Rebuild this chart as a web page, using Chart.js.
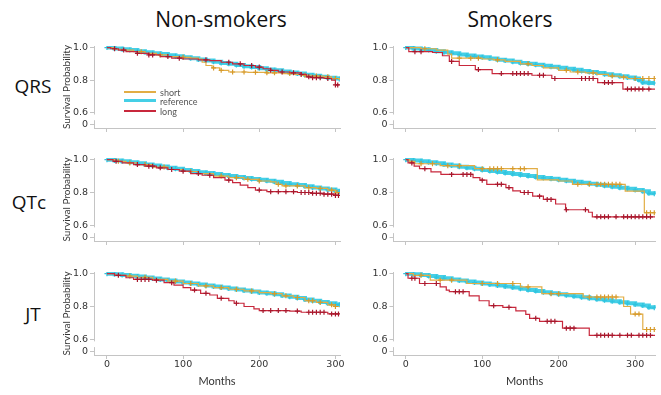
<!DOCTYPE html>
<html>
<head>
<meta charset="utf-8">
<script src="https://cdn.jsdelivr.net/npm/chart.js@4.4.1/dist/chart.umd.min.js"></script>
<style>
  body { margin: 0; background: #fff; width: 661px; height: 395px; position: relative; overflow: hidden; font-family: Lato, sans-serif; }
  canvas { position: absolute; }
  .t { position: absolute; transform: translate(-50%, -50%); white-space: nowrap; color: #111; }
  .col { font-family: "Open Sans", sans-serif; font-size: 21px; }
  .row { font-family: "Open Sans", sans-serif; font-size: 19px; }
  .lg { position: absolute; }
  .lt { position: absolute; font-size: 9px; color: #555; transform: translateY(-50%); }
</style>
</head>
<body>
<div class="t col" style="left:221px;top:19px">Non-smokers</div>
<div class="t col" style="left:510px;top:19px">Smokers</div>
<div class="t row" style="left:33px;top:86px">QRS</div>
<div class="t row" style="left:29px;top:202px">QTc</div>
<div class="t row" style="left:33px;top:314px">JT</div>

<canvas id="c1" width="292" height="100" style="left:56px;top:36px"></canvas>
<canvas id="c2" width="301" height="100" style="left:360px;top:36px"></canvas>
<canvas id="c3" width="292" height="101" style="left:56px;top:148px"></canvas>
<canvas id="c4" width="301" height="101" style="left:360px;top:148px"></canvas>
<canvas id="c5" width="292" height="133" style="left:56px;top:262px"></canvas>
<canvas id="c6" width="301" height="133" style="left:360px;top:262px"></canvas>

<div class="lg" style="left:124px;top:91px;width:32px;height:2px;background:#E2AD45"></div>
<div class="lt" style="left:160px;top:91.5px">short</div>
<div class="lg" style="left:124px;top:99px;width:32px;height:3px;background:#45CFE6"></div>
<div class="lt" style="left:160px;top:101px">reference</div>
<div class="lg" style="left:124px;top:110px;width:32px;height:2px;background:#C8283C"></div>
<div class="lt" style="left:160px;top:110.5px">long</div>

<script>
// months / survival probability
const xTicks = [0, 100, 200, 300];
const yTicks = [0.528, 0.6, 0.8, 1.0];

// Non-smokers, QRS
const nsQrsRef = [[0,1],[10,0.995],[20,0.99],[30,0.985],[40,0.978],[50,0.972],[60,0.966],[70,0.96],[80,0.953],[90,0.947],[100,0.94],[110,0.934],[120,0.927],[130,0.92],[140,0.913],[150,0.906],[160,0.9],[170,0.893],[180,0.886],[190,0.88],[200,0.873],[210,0.866],[220,0.86],[230,0.853],[240,0.847],[250,0.84],[260,0.833],[270,0.827],[280,0.82],[290,0.815],[300,0.81],[305,0.807]];
const nsQrsShort = [[0,1],[8,0.99],[20,0.985],[35,0.975],[50,0.965],[65,0.955],[80,0.945],[95,0.94],[110,0.935],[120,0.93],[125,0.91],[130,0.89],[138,0.875],[148,0.86],[160,0.85],[185,0.848],[210,0.845],[230,0.84],[245,0.835],[255,0.83],[270,0.825],[285,0.82],[295,0.81],[305,0.8]];
const nsQrsShortCens = [45,70,100,140,150,165,180,195,210,220,240,260,275,290,300];
const nsQrsLong = [[0,1],[5,0.993],[15,0.985],[25,0.975],[40,0.965],[55,0.955],[70,0.945],[85,0.935],[100,0.93],[120,0.925],[135,0.92],[150,0.91],[165,0.9],[180,0.89],[195,0.88],[205,0.87],[215,0.86],[225,0.85],[240,0.845],[255,0.835],[262,0.82],[270,0.815],[285,0.81],[295,0.8],[300,0.77],[305,0.77]];
const nsQrsLongCens = [10,22,40,55,60,80,95,130,160,175,190,200,215,230,245,255,265,270,275,280,290,300,303];

// Smokers, QRS
const sQrsRef = [[0,1],[10,0.995],[20,0.99],[30,0.985],[40,0.978],[50,0.972],[60,0.965],[70,0.958],[80,0.952],[90,0.946],[100,0.94],[110,0.933],[120,0.926],[130,0.92],[140,0.913],[150,0.906],[160,0.9],[170,0.894],[180,0.888],[190,0.882],[200,0.876],[210,0.87],[220,0.863],[230,0.856],[240,0.85],[250,0.843],[260,0.836],[270,0.83],[280,0.823],[290,0.816],[300,0.81],[305,0.8],[310,0.785],[318,0.782],[325,0.782]];
const sQrsShort = [[0,1],[20,0.993],[40,0.985],[55,0.96],[60,0.935],[100,0.93],[115,0.925],[130,0.915],[150,0.9],[165,0.89],[180,0.875],[200,0.86],[215,0.85],[235,0.845],[250,0.835],[265,0.825],[280,0.818],[290,0.81],[326,0.81]];
const sQrsShortCens = [25,70,85,95,120,160,210,225,245,270,285,300,310,318,325];
const sQrsLong = [[0,1],[4,0.975],[35,0.97],[48,0.95],[57,0.915],[70,0.89],[91,0.865],[113,0.84],[165,0.83],[191,0.81],[251,0.785],[284,0.745],[326,0.745]];
const sQrsLongCens = [12,20,60,95,125,140,145,150,155,160,175,180,195,230,235,240,245,260,265,270,290,295,300,305,310,318];

// Non-smokers, QTc
const nsQtcRef = [[0,1],[10,0.995],[20,0.99],[30,0.984],[40,0.978],[50,0.971],[60,0.964],[70,0.958],[80,0.951],[90,0.944],[100,0.937],[110,0.931],[120,0.924],[130,0.918],[140,0.912],[150,0.906],[160,0.9],[170,0.894],[180,0.888],[190,0.882],[200,0.877],[210,0.871],[220,0.865],[230,0.858],[240,0.851],[250,0.845],[260,0.838],[270,0.831],[280,0.824],[290,0.818],[300,0.81],[305,0.805]];
const nsQtcShort = [[0,1],[10,0.99],[25,0.98],[40,0.97],[60,0.955],[80,0.94],[100,0.928],[120,0.915],[140,0.9],[160,0.89],[180,0.88],[200,0.87],[215,0.865],[222,0.85],[230,0.84],[245,0.84],[260,0.83],[275,0.825],[290,0.815],[300,0.8],[305,0.797]];
const nsQtcShortCens = [15,30,50,75,110,150,170,185,200,225,235,250,265,280,295,302];
const nsQtcLong = [[0,1],[8,0.99],[20,0.98],[35,0.97],[50,0.96],[65,0.95],[80,0.94],[95,0.93],[110,0.915],[125,0.905],[140,0.89],[155,0.875],[165,0.86],[175,0.845],[185,0.83],[195,0.815],[210,0.805],[250,0.8],[270,0.795],[285,0.79],[300,0.782],[305,0.782]];
const nsQtcLongCens = [12,40,55,60,70,85,100,120,135,160,200,215,225,235,245,255,260,265,270,275,280,285,290,295,300,304];

// Smokers, QTc
const sQtcRef = [[0,1],[10,0.995],[20,0.99],[30,0.984],[40,0.978],[50,0.971],[60,0.964],[70,0.957],[80,0.95],[90,0.944],[100,0.937],[110,0.931],[120,0.925],[130,0.919],[140,0.913],[150,0.907],[160,0.901],[170,0.895],[180,0.889],[190,0.883],[200,0.877],[210,0.871],[220,0.865],[230,0.859],[240,0.853],[250,0.847],[260,0.841],[270,0.835],[280,0.829],[290,0.823],[300,0.816],[310,0.808],[318,0.795],[325,0.792]];
const sQtcShort = [[0,1],[5,0.99],[12,0.975],[45,0.963],[90,0.945],[172,0.877],[200,0.87],[218,0.85],[287,0.808],[312,0.677],[326,0.677]];
const sQtcShortCens = [20,35,55,70,100,110,115,120,125,140,150,155,225,240,250,255,260,265,270,275,280,315,320,325];
const sQtcLong = [[0,1],[3,0.98],[11,0.96],[18,0.945],[33,0.925],[46,0.91],[88,0.89],[97,0.875],[106,0.85],[131,0.83],[140,0.81],[150,0.8],[166,0.778],[180,0.758],[196,0.73],[209,0.695],[239,0.68],[244,0.652],[326,0.652]];
const sQtcLongCens = [8,25,60,75,80,85,100,120,125,135,155,160,175,185,190,210,235,250,255,260,265,275,285,290,295,300,305,310,315,320];

// Non-smokers, JT
const nsJtRef = [[0,1],[10,0.996],[20,0.992],[30,0.987],[40,0.982],[50,0.976],[60,0.97],[70,0.964],[80,0.958],[90,0.952],[100,0.946],[110,0.94],[120,0.934],[130,0.928],[140,0.922],[150,0.916],[160,0.91],[170,0.904],[180,0.898],[190,0.892],[200,0.886],[210,0.88],[220,0.874],[230,0.867],[240,0.86],[250,0.852],[260,0.843],[270,0.835],[280,0.827],[290,0.82],[300,0.813],[305,0.81]];
const nsJtShort = [[0,1],[10,0.99],[25,0.985],[40,0.978],[60,0.965],[80,0.955],[100,0.94],[120,0.925],[140,0.915],[160,0.905],[180,0.895],[200,0.885],[215,0.878],[230,0.865],[245,0.855],[260,0.835],[275,0.825],[290,0.81],[300,0.8],[305,0.8]];
const nsJtShortCens = [30,50,90,110,130,150,170,190,220,235,250,265,270,280,295,300];
const nsJtLong = [[0,1],[10,0.99],[25,0.975],[35,0.965],[60,0.96],[75,0.945],[88,0.93],[100,0.915],[110,0.9],[123,0.88],[135,0.87],[145,0.85],[160,0.835],[167,0.82],[180,0.8],[193,0.786],[200,0.775],[240,0.772],[255,0.765],[290,0.755],[305,0.755]];
const nsJtLongCens = [15,40,45,50,55,65,85,115,130,150,170,205,215,225,235,250,265,270,275,280,285,295,300,304];

// Smokers, JT
const sJtRef = [[0,1],[10,0.996],[20,0.991],[30,0.985],[40,0.979],[50,0.972],[60,0.965],[70,0.958],[80,0.952],[90,0.946],[100,0.94],[110,0.934],[120,0.928],[130,0.922],[140,0.915],[150,0.908],[160,0.901],[170,0.894],[180,0.887],[190,0.88],[200,0.874],[210,0.868],[220,0.862],[230,0.856],[240,0.85],[250,0.844],[260,0.838],[270,0.832],[280,0.826],[290,0.82],[300,0.813],[310,0.806],[318,0.795],[325,0.792]];
const sJtShort = [[0,1],[10,0.99],[32,0.96],[80,0.94],[150,0.92],[178,0.878],[232,0.858],[285,0.8],[294,0.754],[310,0.66],[326,0.66]];
const sJtShortCens = [20,45,60,100,120,140,160,190,200,240,250,255,260,265,270,275,300,305,315,320,325];
const sJtLong = [[0,1],[3,0.972],[18,0.94],[45,0.92],[53,0.9],[57,0.89],[83,0.865],[96,0.835],[109,0.805],[127,0.795],[144,0.773],[157,0.752],[162,0.728],[175,0.71],[205,0.668],[240,0.625],[326,0.625]];
const sJtLongCens = [8,12,25,40,65,70,75,115,135,170,185,190,195,210,215,220,250,255,260,265,270,280,290,295,305,310,315,320];

const ORANGE = '#E2AD45', ORANGE_D = '#D79A2A';
const CYAN = '#45CFE6', CYAN_D = '#2FC3DE';
const RED = '#C8283C', RED_D = '#A8172C';
const AXIS = '#c4c4c4';

function xy(curve) { return curve.map(p => ({ x: p[0], y: p[1] })); }
function stepAt(curve, t) {
  let v = curve[0][1];
  for (const p of curve) if (p[0] <= t) v = p[1];
  return v;
}
function marks(curve, times) { return times.map(t => ({ x: t, y: stepAt(curve, t) })); }

// small white gap in the y axis between 0 and 0.6
const axisBreak = {
  id: 'axisBreak',
  afterDraw(chart) {
    const y = chart.scales.y, ctx = chart.ctx;
    const a = y.getPixelForValue(0.588), b = y.getPixelForValue(0.553);
    ctx.save();
    ctx.fillStyle = '#fff';
    ctx.fillRect(y.right - 2, a, 4, b - a);
    ctx.restore();
  }
};

function panel(id, ref, shortC, shortCens, longC, longCens, o) {
  new Chart(document.getElementById(id), {
    type: 'line',
    data: {
      datasets: [
        { data: marks(longC, longCens), showLine: false, pointStyle: 'cross', pointRadius: 2.5, pointBorderWidth: 1.2, borderColor: RED_D, order: 1 },
        { data: xy(longC), stepped: true, borderColor: RED, borderWidth: 1.2, pointRadius: 0, order: 2 },
        { data: marks(shortC, shortCens), showLine: false, pointStyle: 'cross', pointRadius: 2.5, pointBorderWidth: 1.2, borderColor: ORANGE_D, order: 3 },
        { data: xy(shortC), stepped: true, borderColor: ORANGE, borderWidth: 1.2, pointRadius: 0, order: 4 },
        { data: xy(ref), stepped: true, borderColor: CYAN, borderWidth: 4, pointStyle: 'cross', pointRadius: 2.5, pointBorderWidth: 1.2, pointBorderColor: CYAN_D, order: 5 }
      ]
    },
    options: {
      responsive: false,
      animation: false,
      layout: { padding: { left: o.padLeft, right: o.padRight, top: 10, bottom: 0 } },
      plugins: { legend: { display: false }, tooltip: { enabled: false } },
      scales: {
        x: {
          type: 'linear', min: o.xmin, max: o.xmax,
          afterBuildTicks: s => { s.ticks = xTicks.map(v => ({ value: v })); },
          afterFit: s => { s.height = o.xHeight; },
          grid: { drawOnChartArea: false, drawTicks: true, tickLength: 4, color: AXIS },
          border: { color: AXIS },
          ticks: { display: o.xLabels, padding: 0, maxRotation: 0, color: '#333', font: { family: 'DejaVu Sans', size: 9.5 } },
          title: { display: o.xLabels, text: 'Months', color: '#333', padding: { top: 0, bottom: 7 }, font: { family: 'Lato', size: 11 } }
        },
        y: {
          type: 'linear', min: 0.505, max: 1.01,
          afterBuildTicks: s => { s.ticks = yTicks.map(v => ({ value: v })); },
          afterFit: s => { s.width = o.yWidth; },
          grid: { drawOnChartArea: false, drawTicks: true, tickLength: 4, color: AXIS },
          border: { color: AXIS },
          ticks: { padding: 2, color: '#333', font: { family: 'DejaVu Sans', size: 9.5 },
                   callback: v => (v < 0.55 ? '0' : v.toFixed(1)) },
          title: { display: o.yTitle, text: 'Survival Probability', color: '#333', padding: { top: 1, bottom: 0 }, font: { family: 'Lato', size: 10 } }
        }
      }
    },
    plugins: [axisBreak]
  });
}

const leftCol = { padLeft: 4, padRight: 8, yWidth: 34, xmin: -17, xmax: 306, yTitle: true };
const rightCol = { padLeft: 0, padRight: 4, yWidth: 33.5, xmin: -16, xmax: 327, yTitle: false };

panel('c1', nsQrsRef, nsQrsShort, nsQrsShortCens, nsQrsLong, nsQrsLongCens, { ...leftCol, xHeight: 8, xLabels: false });
panel('c2', sQrsRef, sQrsShort, sQrsShortCens, sQrsLong, sQrsLongCens, { ...rightCol, xHeight: 8, xLabels: false });
panel('c3', nsQtcRef, nsQtcShort, nsQtcShortCens, nsQtcLong, nsQtcLongCens, { ...leftCol, xHeight: 8, xLabels: false });
panel('c4', sQtcRef, sQtcShort, sQtcShortCens, sQtcLong, sQtcLongCens, { ...rightCol, xHeight: 8, xLabels: false });
panel('c5', nsJtRef, nsJtShort, nsJtShortCens, nsJtLong, nsJtLongCens, { ...leftCol, xHeight: 40, xLabels: true });
panel('c6', sJtRef, sJtShort, sJtShortCens, sJtLong, sJtLongCens, { ...rightCol, xHeight: 40, xLabels: true });
</script>
</body>
</html>
